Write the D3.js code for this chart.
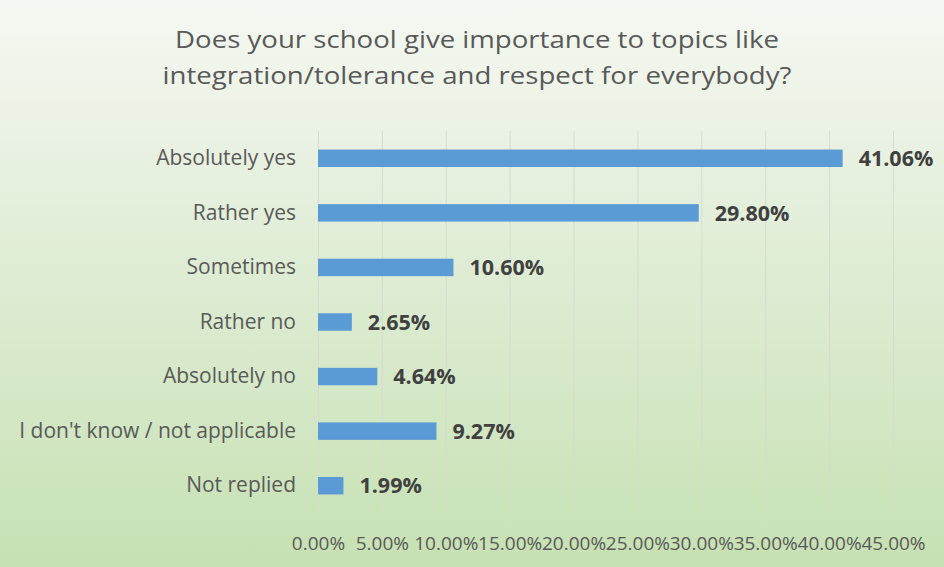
<!DOCTYPE html>
<html>
<head>
<meta charset="utf-8">
<script src="https://cdn.jsdelivr.net/npm/d3@7"></script>
<style>
  html, body { margin: 0; padding: 0; background: #fff; }
  svg { display: block; font-family: "Open Sans", sans-serif; }
</style>
</head>
<body>
<script>
// chart data
var categories = ["Absolutely yes", "Rather yes", "Sometimes", "Rather no",
  "Absolutely no", "I don't know / not applicable", "Not replied"];
var values = [41.06, 29.80, 10.60, 2.65, 4.64, 9.27, 1.99];
var tickValues = [0, 5, 10, 15, 20, 25, 30, 35, 40, 45];
var titleLines = ["Does your school give importance to topics like",
  "integration/tolerance and respect for everybody?"];

var width = 944;
var height = 567;
var margin = {top: 131, right: 51, bottom: 54, left: 318};

var svg = d3.select("body")
  .append("svg")
  .attr("width", width)
  .attr("height", height);

// background gradient
var grad = svg.append("defs").append("linearGradient")
  .attr("id", "bg")
  .attr("x1", 0).attr("y1", 0)
  .attr("x2", 0).attr("y2", 1);
grad.append("stop").attr("offset", "0%").attr("stop-color", "#f5f8f2");
grad.append("stop").attr("offset", "45%").attr("stop-color", "#e0edd6");
grad.append("stop").attr("offset", "100%").attr("stop-color", "#c6e1b3");

svg.append("rect")
  .attr("width", width)
  .attr("height", height)
  .attr("fill", "url(#bg)");

// title (a bit wide, like the original)
svg.append("g").selectAll("text")
  .data(titleLines)
  .join("text")
  .attr("transform", function(d, i) { return "translate(477," + (48 + i * 36) + ") scale(1.15,1)"; })
  .attr("text-anchor", "middle")
  .attr("font-size", 24)
  .attr("fill", "#595959")
  .text(function(d) { return d; });

var x = d3.scaleLinear()
  .domain([0, 45])
  .range([margin.left, width - margin.right]);

var y = d3.scaleBand()
  .domain(categories)
  .range([margin.top, height - margin.bottom])
  .paddingInner(0.68)
  .paddingOuter(0.34);

// gridlines
svg.append("g").selectAll("line")
  .data(tickValues)
  .join("line")
  .attr("x1", function(d) { return x(d) + 0.5; })
  .attr("x2", function(d) { return x(d) + 0.5; })
  .attr("y1", margin.top)
  .attr("y2", height - margin.bottom)
  .attr("stroke", "#d6dccf")
  .attr("stroke-width", 1);

// x axis tick labels
var xAxis = svg.append("g")
  .attr("transform", "translate(0," + (height - margin.bottom) + ")")
  .call(d3.axisBottom(x)
    .tickValues(tickValues)
    .tickSize(0)
    .tickPadding(24)
    .tickFormat(function(d) { return d.toFixed(2) + "%"; }));
xAxis.select(".domain").remove();
xAxis.selectAll("text")
  .attr("font-family", "Open Sans, sans-serif")
  .attr("font-size", 19)
  .attr("fill", "#595959");

// y axis category labels
var yAxis = svg.append("g")
  .attr("transform", "translate(" + (margin.left - 22) + ",0)")
  .call(d3.axisLeft(y).tickSize(0).tickPadding(0));
yAxis.select(".domain").remove();
yAxis.selectAll("text")
  .attr("font-family", "Open Sans, sans-serif")
  .attr("font-size", 21)
  .attr("fill", "#595959");

// bars
svg.append("g").selectAll("rect")
  .data(values)
  .join("rect")
  .attr("x", x(0))
  .attr("y", function(d, i) { return y(categories[i]); })
  .attr("width", function(d) { return x(d) - x(0); })
  .attr("height", y.bandwidth())
  .attr("fill", "#5b9bd5");

// data labels
svg.append("g").selectAll("text")
  .data(values)
  .join("text")
  .attr("x", function(d) { return x(d) + 16; })
  .attr("y", function(d, i) { return y(categories[i]) + y.bandwidth() / 2; })
  .attr("dy", "0.36em")
  .attr("font-size", 21.5)
  .attr("font-weight", "bold")
  .attr("fill", "#404040")
  .text(function(d) { return d.toFixed(2) + "%"; });
</script>
</body>
</html>
